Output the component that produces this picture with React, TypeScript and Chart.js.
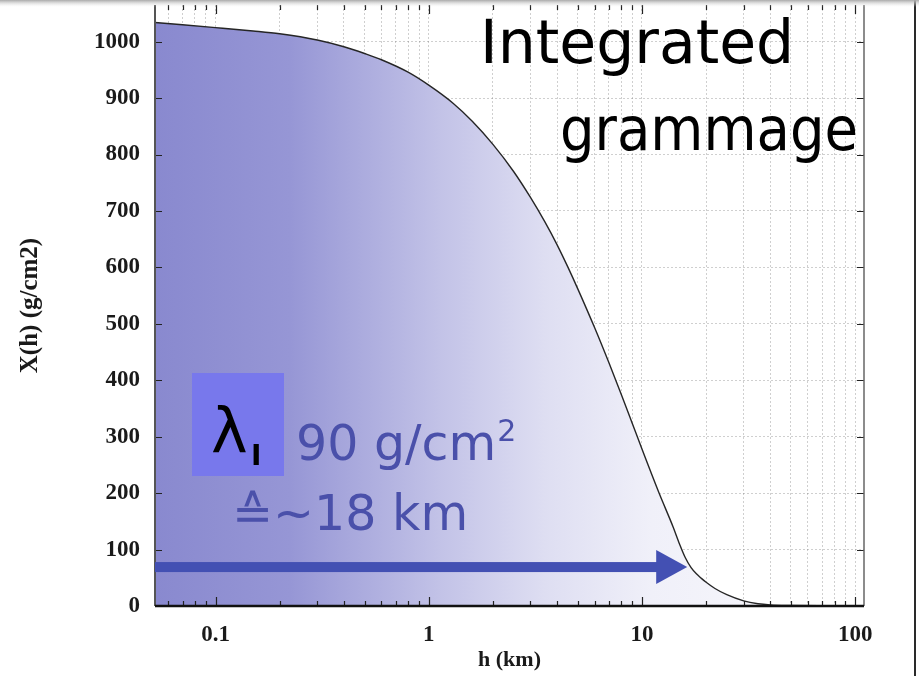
import React, { useEffect, useRef } from 'react';
import { Chart, registerables } from 'chart.js';

Chart.register(...registerables);

// Integrated atmospheric depth X(h) versus altitude h
const altitudeKm = [
  0.052, 0.07, 0.1, 0.15, 0.2, 0.3, 0.4, 0.5, 0.6, 0.8, 1.0, 1.3, 1.6, 2.0, 2.5,
  3.0, 3.5, 4.0, 4.5, 5.0, 6.0, 7.0, 8.0, 9.0, 10, 12, 14, 15, 16, 17, 18, 19,
  20, 22, 25, 30, 35, 40, 50, 70, 110,
];
const grammage = [
  1034, 1030, 1025, 1019, 1014, 1003, 991, 979, 968, 946, 923, 891, 859, 818, 770,
  724, 681, 640, 600, 562, 493, 431, 375, 324, 278, 201, 140, 110, 85, 68, 57, 49,
  42, 31, 20, 9, 4, 2, 1, 0.5, 0.3,
];

// Axis ticks
const xGridValues = [
  0.06, 0.07, 0.08, 0.09,
  0.1, 0.2, 0.3, 0.4, 0.5, 0.6, 0.7, 0.8, 0.9,
  1, 2, 3, 4, 5, 6, 7, 8, 9,
  10, 20, 30, 40, 50, 60, 70, 80, 90,
  100,
];
const xLabelValues = [0.1, 1, 10, 100];
const yTickValues = [0, 100, 200, 300, 400, 500, 600, 700, 800, 900, 1000];

// Texts
const xTitle = 'h (km)';
const yTitle = 'X(h) (g/cm2)';
const headingLine1 = 'Integrated';
const headingLine2 = 'grammage';
const lambdaSymbol = 'λ';
const lambdaIndex = 'I';
const depthText = '90 g/cm';
const depthExponent = '2';
const heightText = '≙~18 km';

// Interaction length arrow: level in g/cm2, tip altitude in km
const arrowLevel = 69;
const arrowTipKm = 16.3;

const serif = "'Liberation Serif', 'Times New Roman', serif";
const sans = "'DejaVu Sans', Verdana, sans-serif";

const decorPlugin = {
  id: 'decor',
  beforeDraw(chart: any) {
    const { ctx, width, height } = chart;
    ctx.save();
    ctx.fillStyle = '#ffffff';
    ctx.fillRect(0, 0, width, height);
    ctx.restore();
  },
  afterDraw(chart: any) {
    const { ctx, chartArea: a, scales } = chart;
    const xs = scales.x;
    const ys = scales.y;
    ctx.save();

    // inward tick marks
    ctx.strokeStyle = '#222';
    ctx.lineWidth = 1.2;
    xGridValues.forEach((v) => {
      const px = Math.round(xs.getPixelForValue(v)) + 0.5;
      const len = xLabelValues.includes(v) ? 9 : 5;
      ctx.beginPath();
      ctx.moveTo(px, a.bottom);
      ctx.lineTo(px, a.bottom - len);
      ctx.moveTo(px, a.top);
      ctx.lineTo(px, a.top + len);
      ctx.stroke();
    });
    yTickValues.forEach((v) => {
      const py = Math.round(ys.getPixelForValue(v)) + 0.5;
      ctx.beginPath();
      ctx.moveTo(a.left, py);
      ctx.lineTo(a.left + 7, py);
      ctx.moveTo(a.right, py);
      ctx.lineTo(a.right - 7, py);
      ctx.stroke();
    });

    // frame
    ctx.strokeStyle = '#555';
    ctx.lineWidth = 2;
    ctx.beginPath();
    ctx.moveTo(a.left, a.top);
    ctx.lineTo(a.left, a.bottom);
    ctx.stroke();
    ctx.strokeStyle = '#666';
    ctx.lineWidth = 1.5;
    ctx.beginPath();
    ctx.moveTo(a.right, a.top);
    ctx.lineTo(a.right, a.bottom);
    ctx.stroke();
    ctx.strokeStyle = '#111';
    ctx.lineWidth = 2.5;
    ctx.beginPath();
    ctx.moveTo(a.left, a.bottom);
    ctx.lineTo(a.right, a.bottom);
    ctx.stroke();

    // arrow
    const ay = ys.getPixelForValue(arrowLevel);
    const tip = xs.getPixelForValue(arrowTipKm);
    const headLen = 31;
    ctx.fillStyle = '#4350b3';
    ctx.fillRect(a.left, ay - 5, tip - headLen - a.left + 1, 10);
    ctx.beginPath();
    ctx.moveTo(tip - headLen, ay - 17);
    ctx.lineTo(tip, ay);
    ctx.lineTo(tip - headLen, ay + 17);
    ctx.closePath();
    ctx.fill();

    // lambda box
    ctx.fillStyle = '#7878ec';
    ctx.fillRect(192, 373, 92, 103);
    ctx.fillStyle = '#000';
    ctx.textBaseline = 'alphabetic';
    ctx.textAlign = 'left';
    ctx.font = `62px ${sans}`;
    ctx.fillText(lambdaSymbol, 211, 452);
    ctx.font = `bold 28px ${sans}`;
    ctx.fillText(lambdaIndex, 251, 465);

    // depth / height annotation
    ctx.fillStyle = '#4a50aa';
    ctx.font = `49px ${sans}`;
    ctx.fillText(depthText, 296, 460);
    const w = ctx.measureText(depthText).width;
    ctx.font = `30px ${sans}`;
    ctx.fillText(depthExponent, 296 + w + 1, 441);
    ctx.font = `49px ${sans}`;
    ctx.fillText(heightText, 232, 530, 240);

    // heading
    ctx.fillStyle = '#000';
    ctx.font = `60px ${sans}`;
    ctx.fillText(headingLine1, 480, 63, 317);
    ctx.fillText(headingLine2, 560, 150, 298);

    // page edge line on the right
    ctx.strokeStyle = '#2a2a2a';
    ctx.lineWidth = 2;
    ctx.beginPath();
    ctx.moveTo(915, 0);
    ctx.lineTo(915, chart.height);
    ctx.stroke();

    // soft gray band at the very top
    const g = ctx.createLinearGradient(0, 0, 0, 7);
    g.addColorStop(0, 'rgba(170,170,170,1)');
    g.addColorStop(1, 'rgba(235,235,235,0)');
    ctx.fillStyle = g;
    ctx.fillRect(0, 0, chart.width, 7);

    ctx.restore();
  },
};

export default function App() {
  const canvasRef = useRef<HTMLCanvasElement | null>(null);

  useEffect(() => {
    const canvas = canvasRef.current;
    if (!canvas) return;

    const chart = new Chart(canvas, {
      type: 'line',
      data: {
        labels: altitudeKm,
        datasets: [
          {
            data: altitudeKm.map((h, i) => ({ x: h, y: grammage[i] })),
            borderColor: '#262626',
            borderWidth: 1.4,
            pointRadius: 0,
            cubicInterpolationMode: 'monotone',
            fill: 'origin',
            backgroundColor: (c: any) => {
              const area = c.chart.chartArea;
              if (!area) return 'rgba(150,150,210,1)';
              const g = c.chart.ctx.createLinearGradient(area.left, 0, area.right, 0);
              g.addColorStop(0, 'rgb(137,137,207)');
              g.addColorStop(0.19, 'rgb(150,150,213)');
              g.addColorStop(0.4, 'rgb(194,194,231)');
              g.addColorStop(0.55, 'rgb(222,222,242)');
              g.addColorStop(0.7, 'rgb(240,240,249)');
              g.addColorStop(1, 'rgb(250,250,253)');
              return g;
            },
          },
        ],
      },
      options: {
        responsive: false,
        animation: false,
        devicePixelRatio: 1,
        layout: { padding: { top: 5, right: 55, left: 0, bottom: 0 } },
        plugins: {
          legend: { display: false },
          tooltip: { enabled: false },
        },
        scales: {
          x: {
            type: 'logarithmic',
            min: 0.052,
            max: 110,
            z: 1,
            afterBuildTicks: (scale: any) => {
              scale.ticks = xGridValues.map((v) => ({ value: v, major: xLabelValues.includes(v) }));
            },
            afterFit: (scale: any) => {
              scale.height = 70;
              scale.paddingLeft = 0;
              scale.paddingRight = 0;
            },
            grid: {
              drawTicks: false,
              color: 'rgba(110,110,110,0.33)',
              lineWidth: 1,
            },
            border: { display: false, dash: [2, 2] },
            ticks: {
              autoSkip: false,
              maxRotation: 0,
              padding: 15,
              color: '#1a1a1a',
              font: { family: serif, weight: 'bold', size: 23 },
              callback: (v: any) => (xLabelValues.includes(Number(v)) ? String(v) : ''),
            },
            title: {
              display: true,
              text: xTitle,
              color: '#1a1a1a',
              font: { family: serif, weight: 'bold', size: 22 },
              padding: { top: 0, bottom: 2 },
            },
          },
          y: {
            type: 'linear',
            min: 0,
            max: 1065,
            z: 1,
            afterFit: (scale: any) => {
              scale.width = 155;
              scale.paddingTop = 0;
              scale.paddingBottom = 0;
            },
            grid: {
              drawTicks: false,
              color: 'rgba(110,110,110,0.33)',
              lineWidth: 1,
            },
            border: { display: false, dash: [2, 2] },
            ticks: {
              stepSize: 100,
              includeBounds: false,
              padding: 15,
              color: '#1a1a1a',
              font: { family: serif, weight: 'bold', size: 23 },
              callback: (v: any) => String(v),
            },
            title: {
              display: true,
              text: yTitle,
              color: '#1a1a1a',
              font: { family: serif, weight: 'bold', size: 25 },
              padding: { top: 16, bottom: 0 },
            },
          },
        },
      },
      plugins: [decorPlugin],
    });

    return () => chart.destroy();
  }, []);

  return (
    <div style={{ position: 'absolute', left: 0, top: 0, width: 919, height: 676 }}>
      <canvas ref={canvasRef} width={919} height={676} />
    </div>
  );
}
